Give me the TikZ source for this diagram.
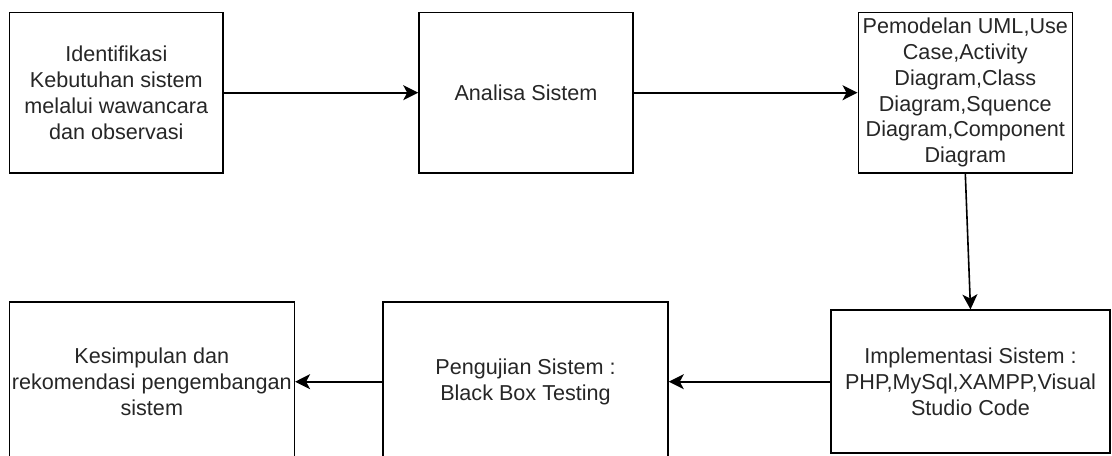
\documentclass[tikz,border=0pt]{standalone}
\usepackage{fontspec}
\setmainfont{Liberation Sans}
\usetikzlibrary{arrows.meta}
\tikzset{
  kotak/.style={draw, line width=0.8pt, align=center, inner sep=0pt,
    text=black!85, font=\fontsize{10.8}{12.9}\selectfont},
  panah/.style={line width=0.8pt, -{Stealth[length=7.5pt,width=7.5pt,inset=2pt]}}
}
\begin{document}
\begin{tikzpicture}[x=0.5pt,y=-0.5pt]
    \useasboundingbox (0,0) rectangle (1112,455);
    % Baris atas
    \node[kotak, minimum width=106.75pt, minimum height=80.25pt] (identifikasi) at (116.3,92.7)
      {Identifikasi\\Kebutuhan sistem\\melalui wawancara\\dan observasi};
    \node[kotak, minimum width=107pt, minimum height=80.25pt] (analisa) at (526,92.7)
      {Analisa Sistem};
    \node[kotak, minimum width=107pt, minimum height=80.25pt] (pemodelan) at (965.3,92.7)
      {Pemodelan UML,Use\\Case,Activity\\Diagram,Class\\Diagram,Squence\\Diagram,Component\\Diagram};
    % Baris bawah
    \node[kotak, minimum width=139.5pt, minimum height=71.5pt] (implementasi) at (970.5,381.7)
      {Implementasi Sistem :\\PHP,MySql,XAMPP,Visual\\Studio Code};
    \node[kotak, minimum width=142.5pt, minimum height=80pt] (pengujian) at (525.5,381.7)
      {Pengujian Sistem :\\Black Box Testing};
    \node[kotak, minimum width=142.5pt, minimum height=80pt] (kesimpulan) at (151.8,381.7)
      {Kesimpulan dan\\rekomendasi pengembangan\\sistem};
    % Panah
    \draw[panah] (identifikasi) -- (analisa);
    \draw[panah] (analisa) -- (pemodelan);
    \draw[panah] (pemodelan.south) -- (implementasi.north);
    \draw[panah] (implementasi) -- (pengujian);
    \draw[panah] (pengujian) -- (kesimpulan);
\end{tikzpicture}
\end{document}
